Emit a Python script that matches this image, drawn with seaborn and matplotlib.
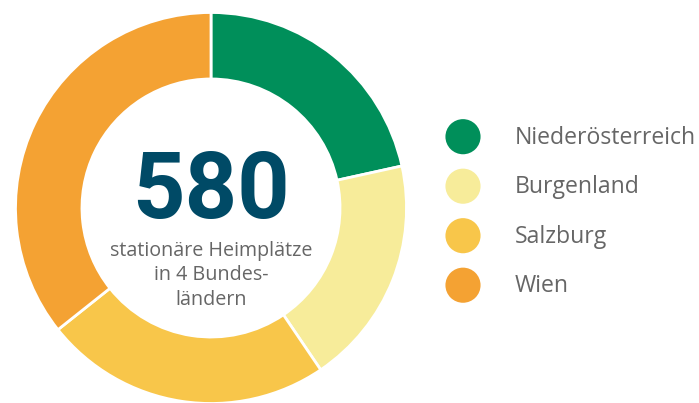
import matplotlib
matplotlib.use("Agg")
import matplotlib.pyplot as plt
import seaborn as sns

# Data
categories = ["Niederösterreich", "Burgenland", "Salzburg", "Wien"]
values = [125, 110, 138, 207]
total_label = "580"
subtitle = "stationäre Heimplätze\nin 4 Bundes-\nländern"
colors = sns.color_palette(["#008F5A", "#F7EC9A", "#F8C64A", "#F4A233"])

sns.set_theme(style="white")
plt.rcParams["font.family"] = ["Open Sans", "DejaVu Sans"]

W, H = 699, 403
fig = plt.figure(figsize=(W / 100, H / 100), dpi=100)
fig.patch.set_facecolor("white")

# Donut axes (pixel geometry)
cx, cy, r = 211, 208, 195.5
ax = fig.add_axes([(cx - r) / W, (H - cy - r) / H, 2 * r / W, 2 * r / H])
ax.pie(values, colors=colors, startangle=90, counterclock=False, radius=1,
       wedgeprops=dict(width=0.34, edgecolor="white", linewidth=2))
ax.set_xlim(-1, 1)
ax.set_ylim(-1, 1)
ax.set_aspect("equal")
ax.axis("off")

ax.text(0, 0.08, total_label, ha="center", va="center", fontsize=66,
        fontweight="bold", family=["Roboto", "DejaVu Sans"], color="#004A66")
ax.text(0, -0.345, subtitle, ha="center", va="center", fontsize=14.2,
        color="#666666", linespacing=1.3)

# Legend axes
lx0, lx1 = 440, 699
ytop, ybot = 136.7 - 24.75, 285.2 + 24.75
lax = fig.add_axes([lx0 / W, (H - ybot) / H, (lx1 - lx0) / W, (ybot - ytop) / H])
ypos = list(range(len(categories)))
sns.scatterplot(x=[23] * len(categories), y=ypos, hue=categories, palette=colors,
                s=640, linewidth=0, ax=lax, legend=False)
for i, c in enumerate(categories):
    lax.text(75, i + 0.02, c, ha="left", va="center", fontsize=16.6, color="#666666")
lax.set_xlim(0, lx1 - lx0)
lax.set_ylim(len(categories) - 0.5, -0.5)
lax.axis("off")

fig.savefig("out.png", dpi=100, facecolor="white")
